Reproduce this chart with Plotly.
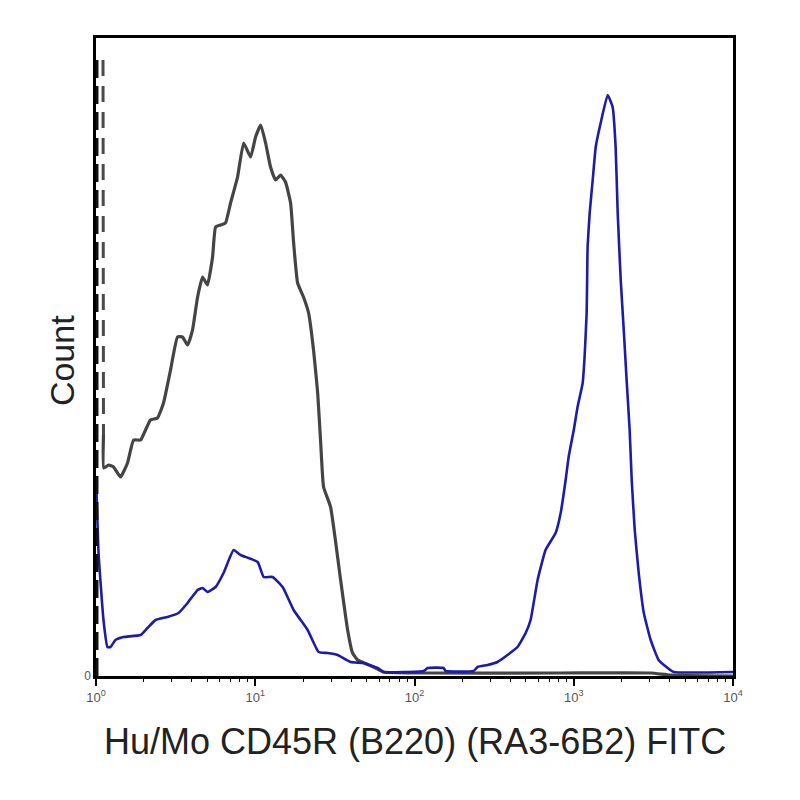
import plotly.graph_objects as go

# ---------------- data (log10 of fluorescence, count) ----------------
gray_log = [0.044, 0.047, 0.049, 0.079, 0.110, 0.154, 0.198, 0.236, 0.280, 0.311,
            0.342, 0.386, 0.424, 0.468, 0.512, 0.543, 0.575, 0.606, 0.638, 0.669,
            0.700, 0.732, 0.751, 0.782, 0.813, 0.845, 0.889, 0.927, 0.971, 1.002,
            1.034, 1.065, 1.096, 1.128, 1.159, 1.190, 1.222, 1.241, 1.266, 1.303,
            1.335, 1.366, 1.392, 1.411, 1.429, 1.473, 1.536, 1.580, 1.611, 1.643,
            1.743, 1.806, 2.038, 2.918, 3.483, 3.608, 4.0]
gray_counts = [616, 241, 208, 211, 209, 199, 213, 236, 236, 246,
               256, 258, 273, 306, 339, 339, 331, 346, 379, 399,
               391, 419, 449, 451, 453, 473, 499, 533, 519, 539,
               551, 533, 509, 496, 501, 494, 473, 433, 393, 379,
               363, 326, 283, 233, 189, 169, 96, 46, 23, 16,
               9, 4, 3, 3, 3, 1, 0]

blue_log = [0.003, 0.016, 0.047, 0.072, 0.091, 0.122, 0.173, 0.280, 0.323, 0.374,
            0.449, 0.518, 0.575, 0.638, 0.669, 0.700, 0.751, 0.801, 0.864, 0.908,
            1.015, 1.053, 1.109, 1.172, 1.241, 1.329, 1.398, 1.454, 1.517, 1.599,
            1.680, 1.769, 1.806, 2.057, 2.083, 2.183, 2.195, 2.371, 2.396, 2.459,
            2.521, 2.584, 2.647, 2.698, 2.729, 2.773, 2.823, 2.886, 2.918, 2.949,
            2.968, 3.000, 3.024, 3.056, 3.068, 3.081, 3.084, 3.087, 3.100, 3.119,
            3.138, 3.169, 3.213, 3.244, 3.263, 3.276, 3.295, 3.314, 3.332, 3.351,
            3.364, 3.383, 3.408, 3.440, 3.483, 3.533, 3.590, 3.628, 4.0]
blue_counts = [186, 123, 56, 29, 29, 36, 39, 41, 48, 56,
               59, 63, 73, 86, 88, 84, 89, 103, 126, 121,
               114, 99, 99, 89, 66, 46, 24, 23, 21, 14,
               13, 8, 4, 5, 8, 8, 5, 5, 9, 11,
               14, 21, 29, 43, 56, 96, 126, 143, 163, 196,
               219, 246, 269, 293, 319, 363, 396, 429, 463, 496,
               529, 553, 581, 569, 529, 463, 396, 346, 296, 246,
               196, 146, 103, 63, 36, 16, 8, 4, 4]

# off-scale first-bin events drawn at the left edge
edge_log = [0.003, 0.003]
edge_counts = [0, 618]

decade_exponents = [0, 1, 2, 3, 4]
minor_multipliers = [2, 3, 4, 5, 6, 7, 8, 9]
x_title = "Hu/Mo CD45R (B220) (RA3-6B2) FITC"
y_title = "Count"

major_vals = [10 ** e for e in decade_exponents]
major_text = [f"10<sup>{e}</sup>" for e in decade_exponents]
minor_vals = [m * 10 ** e for e in decade_exponents[:-1] for m in minor_multipliers]

fig = go.Figure()

fig.add_trace(go.Scatter(
    x=[10 ** v for v in edge_log], y=edge_counts, mode="lines", xaxis="x2",
    line=dict(color="#111111", width=4, dash="18px,8px"), showlegend=False))

fig.add_trace(go.Scatter(
    x=[10 ** v for v in gray_log[:2]], y=gray_counts[:2], mode="lines",
    line=dict(color="#4a4a4a", width=3, dash="16px,10px"), showlegend=False))

fig.add_trace(go.Scatter(
    x=[10 ** v for v in gray_log[1:]], y=gray_counts[1:], mode="lines",
    line=dict(color="#444444", width=3.2, shape="spline", smoothing=0.4),
    showlegend=False))

fig.add_trace(go.Scatter(
    x=[10 ** v for v in blue_log], y=blue_counts, mode="lines",
    line=dict(color="#1c1ca8", width=2.6, shape="spline", smoothing=0.4),
    showlegend=False))

fig.update_layout(
    width=800, height=800,
    margin=dict(l=87.5, r=75, t=30, b=132),
    paper_bgcolor="white", plot_bgcolor="white",
    font=dict(family="Liberation Sans, Arial, sans-serif", color="#222222"),
    xaxis=dict(
        type="log", range=[0, 4],
        tickvals=major_vals, ticktext=major_text,
        tickfont=dict(size=13, color="#555555"),
        ticks="outside", ticklen=7, tickwidth=1.5, tickcolor="black",
        showline=True, linecolor="black", linewidth=3, mirror=True,
        showgrid=False, zeroline=False,
    ),
    xaxis2=dict(
        type="log", range=[0, 4], overlaying="x", side="bottom", anchor="y",
        tickvals=minor_vals, showticklabels=False,
        ticks="outside", ticklen=5, tickwidth=1.3, tickcolor="black",
        showline=False, showgrid=False, zeroline=False,
    ),
    yaxis=dict(
        range=[0, 638],
        tickvals=[0], ticktext=["0"],
        tickfont=dict(size=12, color="#555555"),
        ticks="", ticklen=0,
        showline=True, linecolor="black", linewidth=2.5, mirror=True,
        showgrid=False, zeroline=False,
    ),
    annotations=[
        dict(text=x_title, xref="paper", yref="paper", x=0.5, y=-0.102,
             xanchor="center", yanchor="middle", showarrow=False,
             font=dict(size=36, color="#222222")),
        dict(text=y_title, xref="paper", yref="paper", x=-0.0535, y=0.495,
             xanchor="center", yanchor="middle", showarrow=False, textangle=-90,
             font=dict(size=34, color="#222222")),
    ],
)

fig.write_html("out.html")
